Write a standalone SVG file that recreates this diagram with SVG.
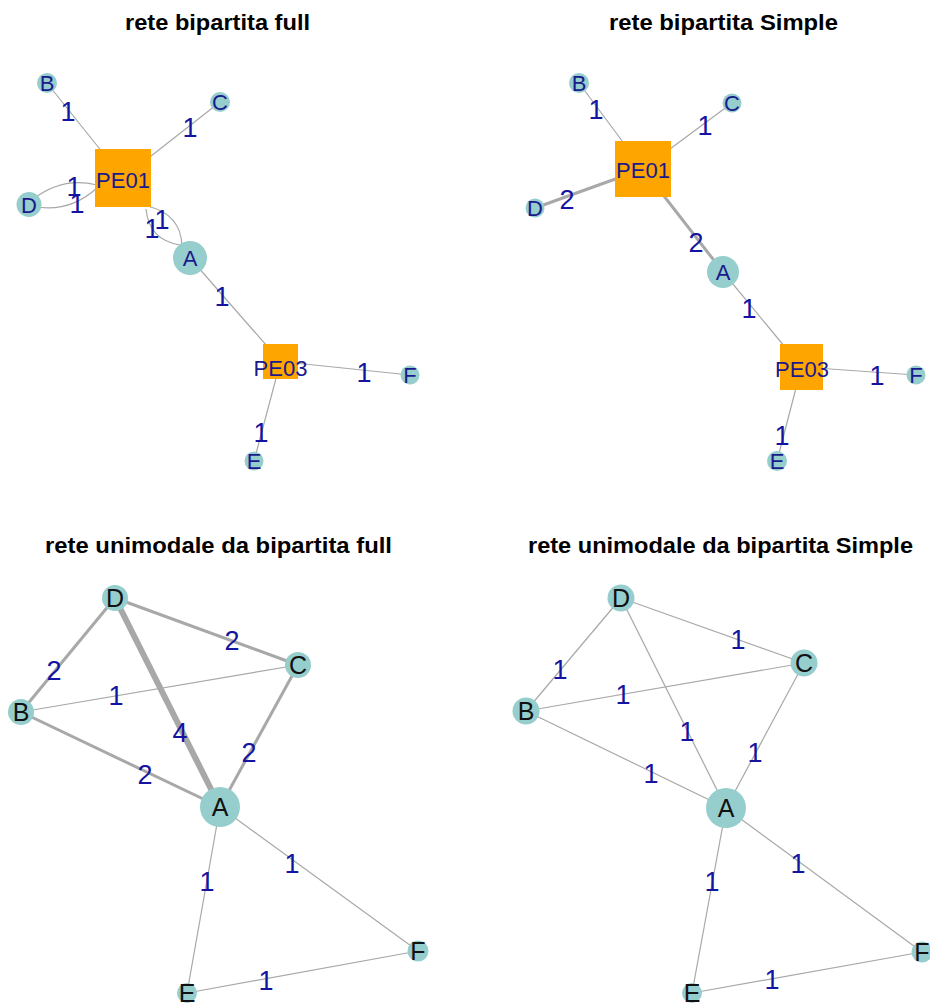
<svg xmlns="http://www.w3.org/2000/svg" width="930" height="1004" viewBox="0 0 930 1004">
<style>
.title{font-family:"Liberation Sans",Arial,sans-serif;font-weight:bold;font-size:22px;fill:#000;text-anchor:middle}
.e{stroke:#A8A8A8;stroke-width:1.2;fill:none}
.w2{stroke-width:3}
.w4{stroke-width:6}
.c{fill:#96CDCD}
.sq{fill:#FFA500}
.nl{font-family:"Liberation Sans",Arial,sans-serif;font-size:22px;fill:#1A1A8C;text-anchor:middle}
.nb{font-family:"Liberation Sans",Arial,sans-serif;font-size:25px;fill:#111;text-anchor:middle}
.el{font-family:"Liberation Sans",Arial,sans-serif;font-size:27px;fill:#1414A0;text-anchor:middle}
</style>
<rect width="930" height="1004" fill="#fff"/>
<g id="titles">
<text class="title" x="217.5" y="30" textLength="185" lengthAdjust="spacingAndGlyphs">rete bipartita full</text>
<text class="title" x="723.5" y="30" textLength="229" lengthAdjust="spacingAndGlyphs">rete bipartita Simple</text>
<text class="title" x="218.5" y="553" textLength="347" lengthAdjust="spacingAndGlyphs">rete unimodale da bipartita full</text>
<text class="title" x="720.5" y="553" textLength="385" lengthAdjust="spacingAndGlyphs">rete unimodale da bipartita Simple</text>
</g>
<g id="connectors">
<!-- panel 1 -->
<line class="e" x1="47" y1="83" x2="123" y2="178"/>
<line class="e" x1="220" y1="102" x2="123" y2="178"/>
<path class="e" d="M32,200 Q62,176 97,185"/>
<path class="e" d="M32,206 Q68,214 97,188"/>
<path class="e" d="M147,206 Q181,214 182,246"/>
<path class="e" d="M146,209 Q149,240 180,245"/>
<line class="e" x1="190" y1="258" x2="280.5" y2="361.5"/>
<line class="e" x1="280.5" y1="361.5" x2="410" y2="375"/>
<line class="e" x1="280.5" y1="361.5" x2="254" y2="461"/>
<!-- panel 2 -->
<line class="e" x1="579" y1="83" x2="643" y2="169"/>
<line class="e" x1="732" y1="103" x2="643" y2="169"/>
<line class="e w2" x1="535" y1="208" x2="643" y2="169"/>
<line class="e w2" x1="643" y1="169" x2="723" y2="272"/>
<line class="e" x1="723" y1="272" x2="801.5" y2="367"/>
<line class="e" x1="801.5" y1="367" x2="916" y2="375"/>
<line class="e" x1="801.5" y1="367" x2="777" y2="461"/>
<!-- panel 3 -->
<line class="e w2" x1="115" y1="598" x2="298" y2="665"/>
<line class="e w2" x1="115" y1="598" x2="21" y2="712"/>
<line class="e" x1="21" y1="712" x2="298" y2="665"/>
<line class="e w4" x1="115" y1="598" x2="220" y2="807"/>
<line class="e w2" x1="21" y1="712" x2="220" y2="807"/>
<line class="e w2" x1="298" y1="665" x2="220" y2="807"/>
<line class="e" x1="220" y1="807" x2="187" y2="993"/>
<line class="e" x1="220" y1="807" x2="418" y2="951"/>
<line class="e" x1="187" y1="993" x2="418" y2="951"/>
<!-- panel 4 -->
<line class="e" x1="621" y1="598" x2="804" y2="663"/>
<line class="e" x1="621" y1="598" x2="526" y2="711"/>
<line class="e" x1="526" y1="711" x2="804" y2="663"/>
<line class="e" x1="621" y1="598" x2="726" y2="808"/>
<line class="e" x1="526" y1="711" x2="726" y2="808"/>
<line class="e" x1="804" y1="663" x2="726" y2="808"/>
<line class="e" x1="726" y1="808" x2="692" y2="993"/>
<line class="e" x1="726" y1="808" x2="922" y2="952"/>
<line class="e" x1="692" y1="993" x2="922" y2="952"/>
</g>
<g id="p1-B"><circle class="c" cx="47" cy="83" r="10"/><text class="nl" x="47" y="91">B</text></g>
<g id="p1-C"><circle class="c" cx="220" cy="102" r="10"/><text class="nl" x="220" y="110">C</text></g>
<g id="p1-D"><circle class="c" cx="29" cy="204.5" r="12.5"/><text class="nl" x="29" y="212.5">D</text></g>
<g id="p1-A"><circle class="c" cx="190" cy="258" r="17"/><text class="nl" x="190" y="266">A</text></g>
<g id="p1-F"><circle class="c" cx="410" cy="375" r="9.5"/><text class="nl" x="410" y="383">F</text></g>
<g id="p1-E"><circle class="c" cx="254" cy="461" r="9.5"/><text class="nl" x="254" y="469">E</text></g>
<g id="p1-PE01"><rect class="sq" x="95" y="149" width="56" height="58"/><text class="nl" x="123" y="188">PE01</text></g>
<g id="p1-PE03"><rect class="sq" x="263" y="344" width="35" height="35"/><text class="nl" x="280.5" y="376">PE03</text></g>
<g id="p2-B"><circle class="c" cx="579" cy="83" r="10"/><text class="nl" x="579" y="91">B</text></g>
<g id="p2-C"><circle class="c" cx="732" cy="103" r="9.5"/><text class="nl" x="732" y="111">C</text></g>
<g id="p2-D"><circle class="c" cx="535" cy="208" r="9.5"/><text class="nl" x="535" y="216">D</text></g>
<g id="p2-A"><circle class="c" cx="723" cy="272" r="16"/><text class="nl" x="723" y="280">A</text></g>
<g id="p2-F"><circle class="c" cx="916" cy="375" r="9.5"/><text class="nl" x="916" y="383">F</text></g>
<g id="p2-E"><circle class="c" cx="777" cy="461" r="10"/><text class="nl" x="777" y="469">E</text></g>
<g id="p2-PE01"><rect class="sq" x="615" y="141" width="56" height="56"/><text class="nl" x="643" y="178">PE01</text></g>
<g id="p2-PE03"><rect class="sq" x="780" y="344" width="43" height="46"/><text class="nl" x="802" y="377">PE03</text></g>
<g id="p3-D"><circle class="c" cx="115" cy="598" r="13"/><text class="nb" x="115" y="607">D</text></g>
<g id="p3-C"><circle class="c" cx="298" cy="665" r="13"/><text class="nb" x="298" y="674">C</text></g>
<g id="p3-B"><circle class="c" cx="21" cy="712" r="13"/><text class="nb" x="21" y="721">B</text></g>
<g id="p3-A"><circle class="c" cx="220" cy="807" r="20"/><text class="nb" x="220" y="816">A</text></g>
<g id="p3-F"><circle class="c" cx="418" cy="951" r="10.5"/><text class="nb" x="418" y="960">F</text></g>
<g id="p3-E"><circle class="c" cx="187" cy="993" r="10"/><text class="nb" x="187" y="1002">E</text></g>
<g id="p4-D"><circle class="c" cx="621" cy="598" r="13.5"/><text class="nb" x="621" y="607">D</text></g>
<g id="p4-C"><circle class="c" cx="804" cy="663" r="13.5"/><text class="nb" x="804" y="672">C</text></g>
<g id="p4-B"><circle class="c" cx="526" cy="711" r="13.5"/><text class="nb" x="526" y="720">B</text></g>
<g id="p4-A"><circle class="c" cx="726" cy="808" r="20"/><text class="nb" x="726" y="817">A</text></g>
<g id="p4-F"><circle class="c" cx="922" cy="952" r="10.5"/><text class="nb" x="922" y="961">F</text></g>
<g id="p4-E"><circle class="c" cx="692" cy="993" r="10"/><text class="nb" x="692" y="1002">E</text></g>
<g id="edge-labels">
<text class="el" x="68" y="121">1</text>
<text class="el" x="190" y="137">1</text>
<text class="el" x="74" y="196">1</text>
<text class="el" x="77" y="213">1</text>
<text class="el" x="162" y="229">1</text>
<text class="el" x="152" y="238">1</text>
<text class="el" x="222" y="306">1</text>
<text class="el" x="364" y="382">1</text>
<text class="el" x="261" y="442">1</text>
<text class="el" x="596" y="119">1</text>
<text class="el" x="705" y="135">1</text>
<text class="el" x="567" y="209">2</text>
<text class="el" x="696" y="252">2</text>
<text class="el" x="749" y="318">1</text>
<text class="el" x="877" y="385">1</text>
<text class="el" x="782" y="445">1</text>
<text class="el" x="232" y="650">2</text>
<text class="el" x="54" y="680">2</text>
<text class="el" x="116" y="705">1</text>
<text class="el" x="180" y="742">4</text>
<text class="el" x="145" y="784">2</text>
<text class="el" x="249" y="762">2</text>
<text class="el" x="207" y="891">1</text>
<text class="el" x="292" y="873">1</text>
<text class="el" x="266" y="990">1</text>
<text class="el" x="738" y="649">1</text>
<text class="el" x="560" y="679">1</text>
<text class="el" x="623" y="704">1</text>
<text class="el" x="687" y="741">1</text>
<text class="el" x="755" y="762">1</text>
<text class="el" x="651" y="783">1</text>
<text class="el" x="712" y="891">1</text>
<text class="el" x="798" y="873">1</text>
<text class="el" x="772" y="989">1</text>
</g>
</svg>
